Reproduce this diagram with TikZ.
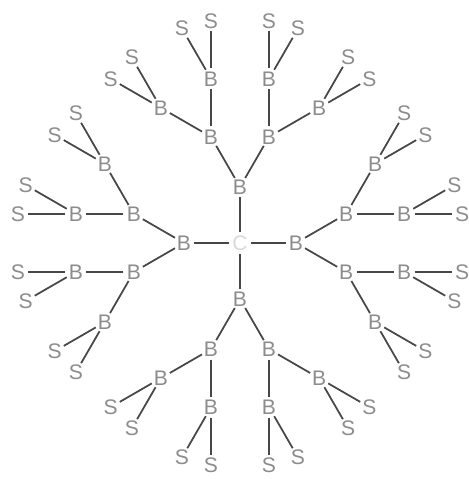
\documentclass[tikz,border=0pt]{standalone}
\usepackage{fontspec}
\setmainfont{Liberation Sans}

\tikzset{atom/.style={circle,inner sep=0pt,text=black!45,font=\fontsize{12}{12}\selectfont},
  bond/.style={line width=1pt,draw=black!72}}

\begin{document}
\begin{tikzpicture}[x=0.02cm,y=0.02cm]
\useasboundingbox (0,0) rectangle (469,483);
\node[atom,text=black!15] (c) at (240,240) {C};
% four equal arms, each one mirrored about its own axis
\foreach \r [count=\k] in {0,90,180,270}{
  \begin{scope}[shift={(240,240)},rotate=\r]
    \node[atom] (b\k) at (0,56) {B};
    \draw[bond] (c) -- (b\k);
    \foreach \m [count=\j] in {-1,1}{
      \begin{scope}[xscale=\m]
        \node[atom] (g\k\j) at (29,106.2) {B};
        \node[atom] (h\k\j) at (29,164.2) {B};
        \node[atom] (i\k\j) at (79.2,135.2) {B};
        \node[atom] (s\k\j1) at (29,222.2) {S};
        \node[atom] (s\k\j2) at (58,214.4) {S};
        \node[atom] (s\k\j3) at (108.2,185.4) {S};
        \node[atom] (s\k\j4) at (129.4,164.2) {S};
        \draw[bond] (b\k) -- (g\k\j);
        \draw[bond] (g\k\j) -- (h\k\j);
        \draw[bond] (g\k\j) -- (i\k\j);
        \draw[bond] (h\k\j) -- (s\k\j1);
        \draw[bond] (h\k\j) -- (s\k\j2);
        \draw[bond] (i\k\j) -- (s\k\j3);
        \draw[bond] (i\k\j) -- (s\k\j4);
      \end{scope}}
  \end{scope}}
\end{tikzpicture}
\end{document}
